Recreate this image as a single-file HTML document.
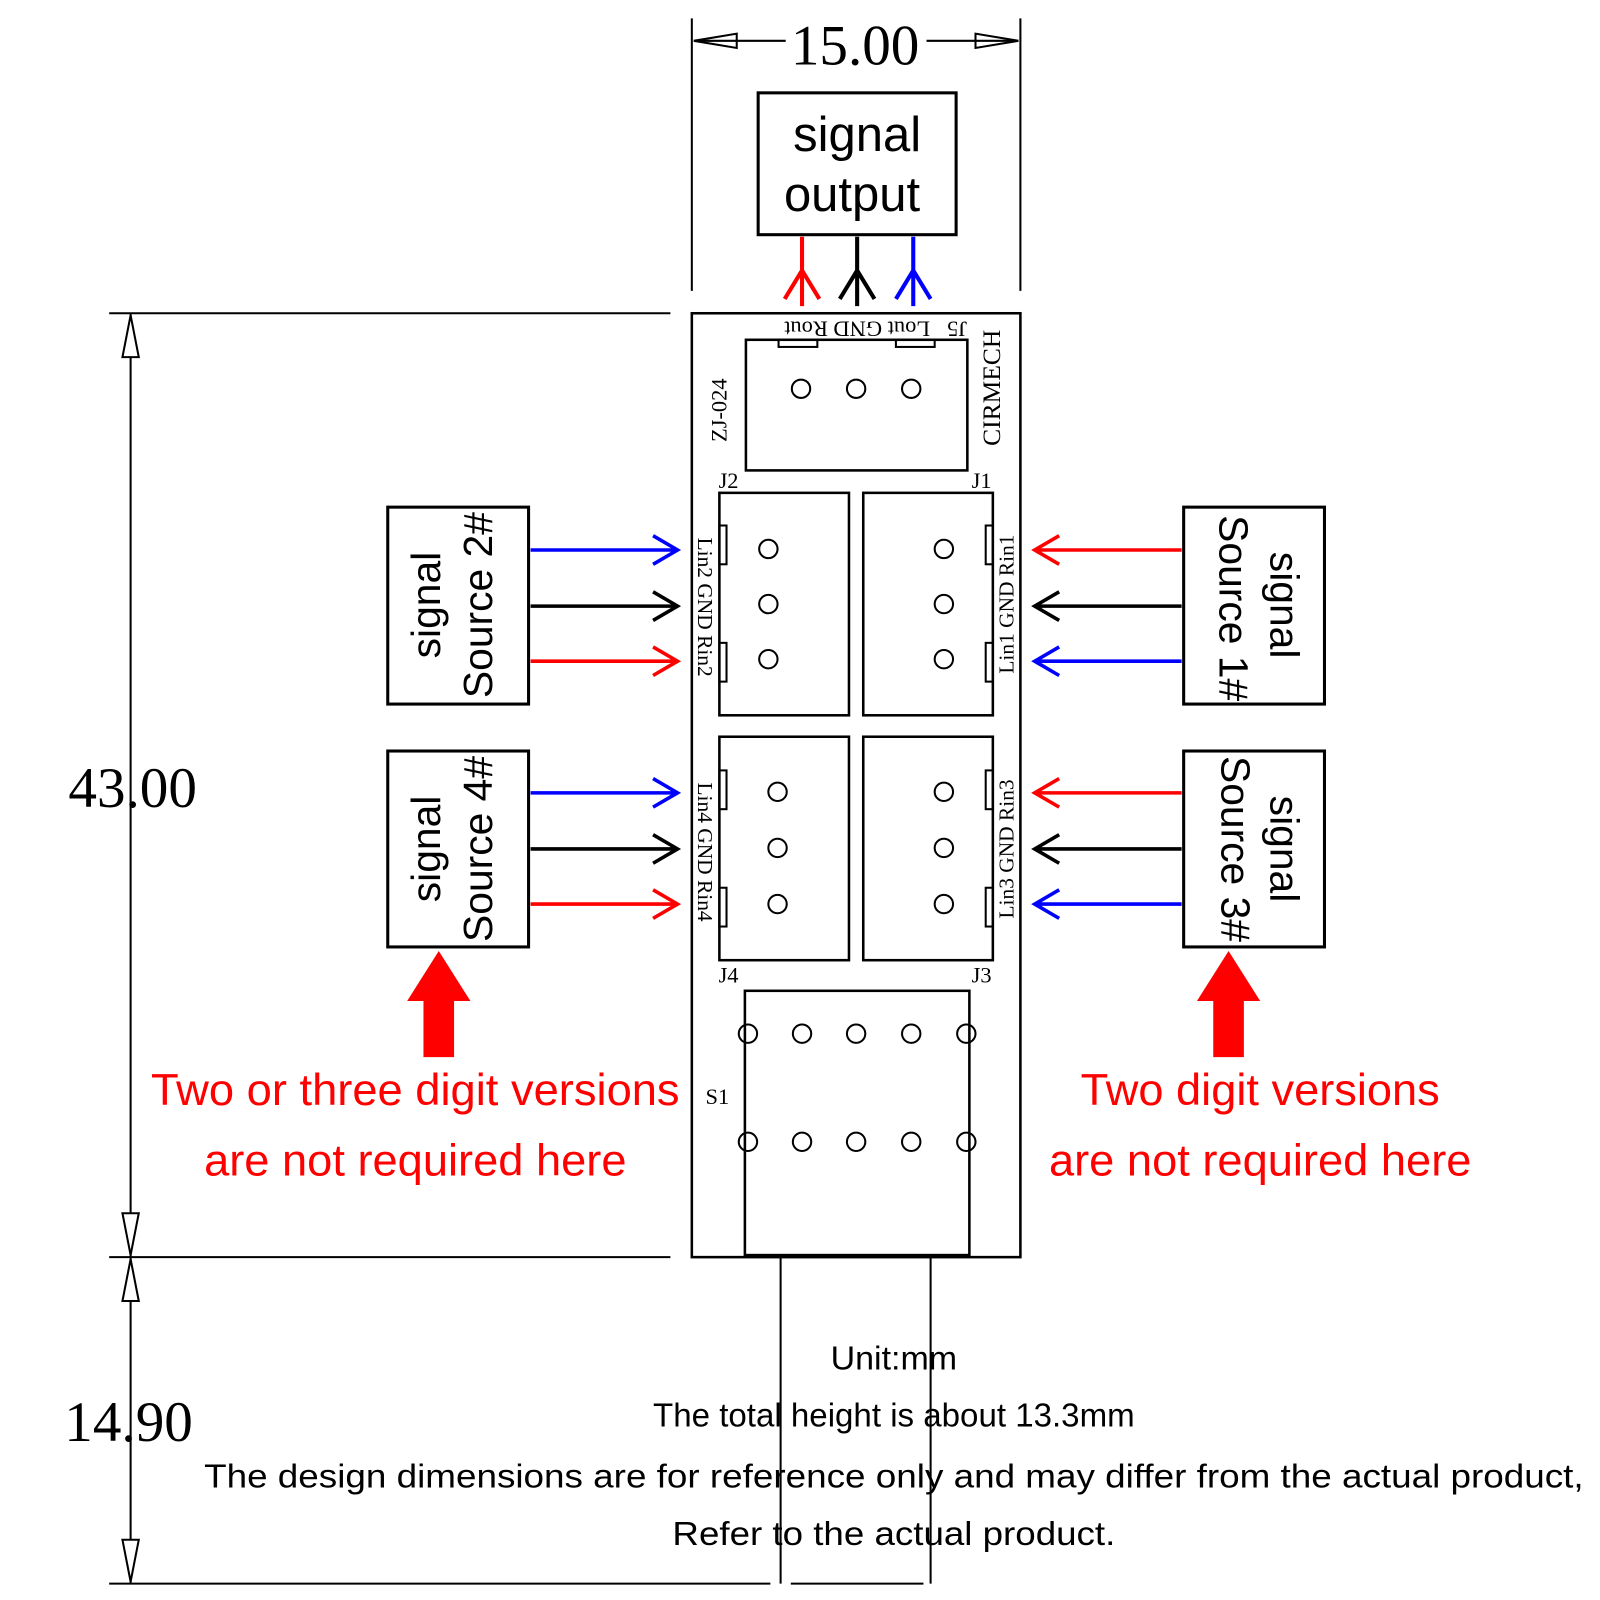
<!DOCTYPE html>
<html><head><meta charset="utf-8"><style>
html,body{margin:0;padding:0;background:#fff;}
svg{display:block;}
.serif{font-family:"Liberation Serif",serif;}
.sans{font-family:"Liberation Sans","Noto Sans CJK SC",sans-serif;}
</style></head><body>
<svg width="1600" height="1600" viewBox="0 0 1600 1600" xmlns="http://www.w3.org/2000/svg">
<g transform="scale(1.0204)">
<g fill="none" stroke="#000" stroke-width="3">
<line x1="678" y1="18" x2="678" y2="285" stroke-width="2"/>
<line x1="1000" y1="18" x2="1000" y2="285" stroke-width="2"/>
<line x1="680" y1="40" x2="770" y2="40" stroke-width="2"/>
<line x1="908" y1="40" x2="998" y2="40" stroke-width="2"/>
<path d="M680 40 L722 33 L722 47 Z" stroke-width="2"/>
<path d="M998 40 L956 33 L956 47 Z" stroke-width="2"/>
<rect x="743" y="91" width="194" height="139"/>
<line x1="107" y1="307" x2="657" y2="307" stroke-width="2"/>
<line x1="107" y1="1232" x2="657" y2="1232" stroke-width="2"/>
<line x1="107" y1="1552" x2="755" y2="1552" stroke-width="2"/>
<line x1="128" y1="307" x2="128" y2="1552" stroke-width="2"/>
<path d="M128 309 L136 350 L120 350 Z" fill="#fff" stroke-width="2"/>
<path d="M128 1230 L136 1189 L120 1189 Z" fill="#fff" stroke-width="2"/>
<path d="M128 1234 L136 1275 L120 1275 Z" fill="#fff" stroke-width="2"/>
<path d="M128 1550 L136 1509 L120 1509 Z" fill="#fff" stroke-width="2"/>
<rect x="678" y="307" width="322" height="925" stroke-width="2.5"/>
<rect x="731" y="333" width="217" height="128" stroke-width="2.5"/>
<rect x="763" y="333" width="38" height="7" stroke-width="2"/>
<rect x="878" y="333" width="38" height="7" stroke-width="2"/>
<rect x="705" y="483" width="127" height="218" stroke-width="2.5"/>
<rect x="846" y="483" width="127" height="218" stroke-width="2.5"/>
<rect x="705" y="722" width="127" height="219" stroke-width="2.5"/>
<rect x="846" y="722" width="127" height="219" stroke-width="2.5"/>
<rect x="705" y="515" width="7" height="38" stroke-width="2"/>
<rect x="705" y="630" width="7" height="38" stroke-width="2"/>
<rect x="966" y="515" width="7" height="38" stroke-width="2"/>
<rect x="966" y="630" width="7" height="38" stroke-width="2"/>
<rect x="705" y="755" width="7" height="38" stroke-width="2"/>
<rect x="705" y="870" width="7" height="38" stroke-width="2"/>
<rect x="966" y="755" width="7" height="38" stroke-width="2"/>
<rect x="966" y="870" width="7" height="38" stroke-width="2"/>
<rect x="730" y="971" width="220" height="259" stroke-width="2.5"/>
<line x1="765" y1="1232" x2="765" y2="1552" stroke-width="2"/>
<line x1="912" y1="1232" x2="912" y2="1552" stroke-width="2"/>
<line x1="775" y1="1552" x2="905" y2="1552" stroke-width="2"/>
<g stroke-width="2">
<circle cx="785" cy="381" r="9"/><circle cx="839" cy="381" r="9"/><circle cx="893" cy="381" r="9"/>
<circle cx="753" cy="538" r="9"/><circle cx="753" cy="592" r="9"/><circle cx="753" cy="646" r="9"/>
<circle cx="925" cy="538" r="9"/><circle cx="925" cy="592" r="9"/><circle cx="925" cy="646" r="9"/>
<circle cx="762" cy="776" r="9"/><circle cx="762" cy="831" r="9"/><circle cx="762" cy="886" r="9"/>
<circle cx="925" cy="776" r="9"/><circle cx="925" cy="831" r="9"/><circle cx="925" cy="886" r="9"/>
<circle cx="733" cy="1013" r="9"/><circle cx="786" cy="1013" r="9"/><circle cx="839" cy="1013" r="9"/><circle cx="893" cy="1013" r="9"/><circle cx="947" cy="1013" r="9"/>
<circle cx="733" cy="1119" r="9"/><circle cx="786" cy="1119" r="9"/><circle cx="839" cy="1119" r="9"/><circle cx="893" cy="1119" r="9"/><circle cx="947" cy="1119" r="9"/>
</g>
<rect x="380" y="497" width="138" height="193"/>
<rect x="380" y="736" width="138" height="192"/>
<rect x="1160" y="497" width="138" height="193"/>
<rect x="1160" y="736" width="138" height="192"/>
</g>
<g fill="none" stroke-width="4">
<path d="M786 232 V300 M769 293 L786 265 L803 293" stroke="#f00"/>
<path d="M840 232 V300 M823 293 L840 265 L857 293" stroke="#000"/>
<path d="M895 232 V300 M878 293 L895 265 L912 293" stroke="#00f"/>
</g>
<g fill="none" stroke-width="3.5">
<path d="M520 539 H664 M640 525 L664 539 L640 553" stroke="#00f"/>
<path d="M520 594 H664 M640 580 L664 594 L640 608" stroke="#000"/>
<path d="M520 648 H664 M640 634 L664 648 L640 662" stroke="#f00"/>
<path d="M520 777 H664 M640 763 L664 777 L640 791" stroke="#00f"/>
<path d="M520 832 H664 M640 818 L664 832 L640 846" stroke="#000"/>
<path d="M520 886 H664 M640 872 L664 886 L640 900" stroke="#f00"/>
<path d="M1158 539 H1014 M1038 525 L1014 539 L1038 553" stroke="#f00"/>
<path d="M1158 594 H1014 M1038 580 L1014 594 L1038 608" stroke="#000"/>
<path d="M1158 648 H1014 M1038 634 L1014 648 L1038 662" stroke="#00f"/>
<path d="M1158 777 H1014 M1038 763 L1014 777 L1038 791" stroke="#f00"/>
<path d="M1158 832 H1014 M1038 818 L1014 832 L1038 846" stroke="#000"/>
<path d="M1158 886 H1014 M1038 872 L1014 886 L1038 900" stroke="#00f"/>
</g>
<path d="M430 932 L461 981 L445 981 L445 1036 L415 1036 L415 981 L399 981 Z" fill="#f00"/>
<path d="M1204 932 L1235 981 L1219 981 L1219 1036 L1189 1036 L1189 981 L1173 981 Z" fill="#f00"/>

<text x="838" y="63" class="serif" font-size="56" text-anchor="middle">15.00</text>
<text x="130" y="791" class="serif" font-size="56" text-anchor="middle">43.00</text>
<text x="126" y="1412" class="serif" font-size="56" text-anchor="middle">14.90</text>
<text x="840" y="148" class="sans" font-size="48" text-anchor="middle">signal</text>
<text x="835" y="207" class="sans" font-size="48" text-anchor="middle">output</text>

<g class="sans" font-size="40" text-anchor="middle">
<text transform="translate(431,593) rotate(-90)">signal</text>
<text transform="translate(482,593) rotate(-90)">Source 2#</text>
<text transform="translate(431,832) rotate(-90)">signal</text>
<text transform="translate(482,832) rotate(-90)">Source 4#</text>
<text transform="translate(1245,593) rotate(90)">signal</text>
<text transform="translate(1195,596) rotate(90)">Source 1#</text>
<text transform="translate(1245,832) rotate(90)">signal</text>
<text transform="translate(1197,832) rotate(90)">Source 3#</text>
</g>

<g class="serif" font-size="22">
<text transform="translate(840,315) rotate(180)" text-anchor="middle">Lout   GND Rout</text>
<text transform="translate(938,315) rotate(180)" text-anchor="middle">J5</text>
<text transform="translate(712,402) rotate(-90)" text-anchor="middle">ZJ-024</text>
<text transform="translate(980,380) rotate(-90)" text-anchor="middle" font-size="25">CIRMECH</text>
<text x="714" y="478" text-anchor="middle">J2</text>
<text x="962" y="478" text-anchor="middle">J1</text>
<text x="714" y="963" text-anchor="middle">J4</text>
<text x="962" y="963" text-anchor="middle">J3</text>
<text x="703" y="1082" text-anchor="middle">S1</text>
<text transform="translate(684,595) rotate(90)" text-anchor="middle" font-size="21">Lin2 GND Rin2</text>
<text transform="translate(993,592) rotate(-90)" text-anchor="middle" font-size="21">Lin1 GND Rin1</text>
<text transform="translate(684,835) rotate(90)" text-anchor="middle" font-size="21">Lin4 GND Rin4</text>
<text transform="translate(993,832) rotate(-90)" text-anchor="middle" font-size="21">Lin3 GND Rin3</text>
</g>

<g class="sans" font-size="44" fill="#f00" text-anchor="middle">
<text x="407" y="1083" textLength="518" lengthAdjust="spacingAndGlyphs">Two or three digit versions</text>
<text x="407" y="1152" textLength="414" lengthAdjust="spacingAndGlyphs">are not required here</text>
<text x="1235" y="1083" textLength="352" lengthAdjust="spacingAndGlyphs">Two digit versions</text>
<text x="1235" y="1152" textLength="414" lengthAdjust="spacingAndGlyphs">are not required here</text>
</g>

<g class="sans" font-size="33" fill="#000" text-anchor="middle">
<text x="876" y="1342" textLength="124" lengthAdjust="spacingAndGlyphs">Unit:mm</text>
<text x="876" y="1398" textLength="472" lengthAdjust="spacingAndGlyphs">The total height is about 13.3mm</text>
<text x="876" y="1458" textLength="1352" lengthAdjust="spacingAndGlyphs">The design dimensions are for reference only and may differ from the actual product,</text>
<text x="876" y="1514" textLength="434" lengthAdjust="spacingAndGlyphs">Refer to the actual product.</text>
</g>
</g>
</svg>
</body></html>
